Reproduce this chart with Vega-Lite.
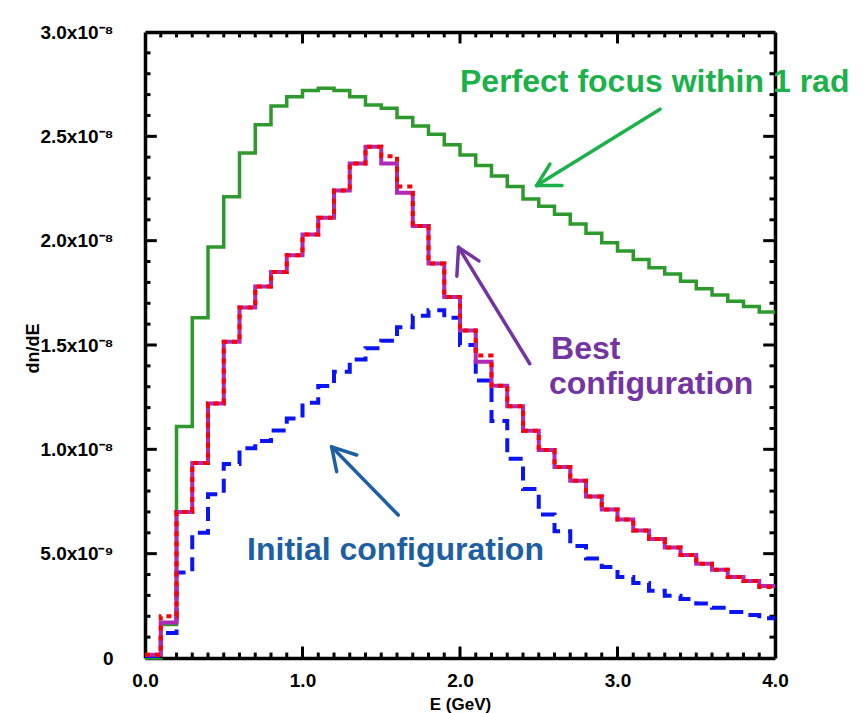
{
  "$schema": "https://vega.github.io/schema/vega-lite/v6.json",
  "width": 630,
  "height": 626,
  "autosize": "none",
  "padding": {"left": 145, "top": 32, "right": 88, "bottom": 55},
  "background": "white",
  "config": {
    "view": {"stroke": null},
    "font": "Liberation Sans",
    "axis": {"grid": false}
  },
  "datasets": {
    "spectra": [
      {"series": "Perfect focus", "E": 0.0, "dndE": 0},
      {"series": "Perfect focus", "E": 0.1, "dndE": 0.16e-8},
      {"series": "Perfect focus", "E": 0.2, "dndE": 1.11e-8},
      {"series": "Perfect focus", "E": 0.3, "dndE": 1.63e-8},
      {"series": "Perfect focus", "E": 0.4, "dndE": 1.97e-8},
      {"series": "Perfect focus", "E": 0.5, "dndE": 2.21e-8},
      {"series": "Perfect focus", "E": 0.6, "dndE": 2.42e-8},
      {"series": "Perfect focus", "E": 0.7, "dndE": 2.555e-8},
      {"series": "Perfect focus", "E": 0.8, "dndE": 2.645e-8},
      {"series": "Perfect focus", "E": 0.9, "dndE": 2.69e-8},
      {"series": "Perfect focus", "E": 1.0, "dndE": 2.72e-8},
      {"series": "Perfect focus", "E": 1.1, "dndE": 2.73e-8},
      {"series": "Perfect focus", "E": 1.2, "dndE": 2.72e-8},
      {"series": "Perfect focus", "E": 1.3, "dndE": 2.69e-8},
      {"series": "Perfect focus", "E": 1.4, "dndE": 2.65e-8},
      {"series": "Perfect focus", "E": 1.5, "dndE": 2.635e-8},
      {"series": "Perfect focus", "E": 1.6, "dndE": 2.59e-8},
      {"series": "Perfect focus", "E": 1.7, "dndE": 2.55e-8},
      {"series": "Perfect focus", "E": 1.8, "dndE": 2.51e-8},
      {"series": "Perfect focus", "E": 1.9, "dndE": 2.46e-8},
      {"series": "Perfect focus", "E": 2.0, "dndE": 2.41e-8},
      {"series": "Perfect focus", "E": 2.1, "dndE": 2.36e-8},
      {"series": "Perfect focus", "E": 2.2, "dndE": 2.31e-8},
      {"series": "Perfect focus", "E": 2.3, "dndE": 2.26e-8},
      {"series": "Perfect focus", "E": 2.4, "dndE": 2.2e-8},
      {"series": "Perfect focus", "E": 2.5, "dndE": 2.165e-8},
      {"series": "Perfect focus", "E": 2.6, "dndE": 2.127e-8},
      {"series": "Perfect focus", "E": 2.7, "dndE": 2.08e-8},
      {"series": "Perfect focus", "E": 2.8, "dndE": 2.036e-8},
      {"series": "Perfect focus", "E": 2.9, "dndE": 1.99e-8},
      {"series": "Perfect focus", "E": 3.0, "dndE": 1.95e-8},
      {"series": "Perfect focus", "E": 3.1, "dndE": 1.91e-8},
      {"series": "Perfect focus", "E": 3.2, "dndE": 1.87e-8},
      {"series": "Perfect focus", "E": 3.3, "dndE": 1.84e-8},
      {"series": "Perfect focus", "E": 3.4, "dndE": 1.806e-8},
      {"series": "Perfect focus", "E": 3.5, "dndE": 1.77e-8},
      {"series": "Perfect focus", "E": 3.6, "dndE": 1.74e-8},
      {"series": "Perfect focus", "E": 3.7, "dndE": 1.71e-8},
      {"series": "Perfect focus", "E": 3.8, "dndE": 1.684e-8},
      {"series": "Perfect focus", "E": 3.9, "dndE": 1.658e-8},
      {"series": "Perfect focus", "E": 4.0, "dndE": 1.658e-8},

      {"series": "Initial", "E": 0.0, "dndE": 0.01e-8},
      {"series": "Initial", "E": 0.1, "dndE": 0.12e-8},
      {"series": "Initial", "E": 0.2, "dndE": 0.41e-8},
      {"series": "Initial", "E": 0.3, "dndE": 0.6e-8},
      {"series": "Initial", "E": 0.4, "dndE": 0.785e-8},
      {"series": "Initial", "E": 0.5, "dndE": 0.93e-8},
      {"series": "Initial", "E": 0.6, "dndE": 1.005e-8},
      {"series": "Initial", "E": 0.7, "dndE": 1.04e-8},
      {"series": "Initial", "E": 0.8, "dndE": 1.09e-8},
      {"series": "Initial", "E": 0.9, "dndE": 1.148e-8},
      {"series": "Initial", "E": 1.0, "dndE": 1.223e-8},
      {"series": "Initial", "E": 1.1, "dndE": 1.303e-8},
      {"series": "Initial", "E": 1.2, "dndE": 1.372e-8},
      {"series": "Initial", "E": 1.3, "dndE": 1.43e-8},
      {"series": "Initial", "E": 1.4, "dndE": 1.484e-8},
      {"series": "Initial", "E": 1.5, "dndE": 1.52e-8},
      {"series": "Initial", "E": 1.6, "dndE": 1.585e-8},
      {"series": "Initial", "E": 1.7, "dndE": 1.64e-8},
      {"series": "Initial", "E": 1.8, "dndE": 1.667e-8},
      {"series": "Initial", "E": 1.9, "dndE": 1.63e-8},
      {"series": "Initial", "E": 2.0, "dndE": 1.5e-8},
      {"series": "Initial", "E": 2.1, "dndE": 1.33e-8},
      {"series": "Initial", "E": 2.2, "dndE": 1.136e-8},
      {"series": "Initial", "E": 2.3, "dndE": 0.955e-8},
      {"series": "Initial", "E": 2.4, "dndE": 0.81e-8},
      {"series": "Initial", "E": 2.5, "dndE": 0.688e-8},
      {"series": "Initial", "E": 2.6, "dndE": 0.607e-8},
      {"series": "Initial", "E": 2.7, "dndE": 0.537e-8},
      {"series": "Initial", "E": 2.8, "dndE": 0.477e-8},
      {"series": "Initial", "E": 2.9, "dndE": 0.436e-8},
      {"series": "Initial", "E": 3.0, "dndE": 0.388e-8},
      {"series": "Initial", "E": 3.1, "dndE": 0.36e-8},
      {"series": "Initial", "E": 3.2, "dndE": 0.322e-8},
      {"series": "Initial", "E": 3.3, "dndE": 0.298e-8},
      {"series": "Initial", "E": 3.4, "dndE": 0.283e-8},
      {"series": "Initial", "E": 3.5, "dndE": 0.261e-8},
      {"series": "Initial", "E": 3.6, "dndE": 0.241e-8},
      {"series": "Initial", "E": 3.7, "dndE": 0.22e-8},
      {"series": "Initial", "E": 3.8, "dndE": 0.206e-8},
      {"series": "Initial", "E": 3.9, "dndE": 0.19e-8},
      {"series": "Initial", "E": 4.0, "dndE": 0.19e-8},

      {"series": "Best B", "E": 0.0, "dndE": 0.015e-8},
      {"series": "Best B", "E": 0.1, "dndE": 0.17e-8},
      {"series": "Best B", "E": 0.2, "dndE": 0.7e-8},
      {"series": "Best B", "E": 0.3, "dndE": 0.935e-8},
      {"series": "Best B", "E": 0.4, "dndE": 1.22e-8},
      {"series": "Best B", "E": 0.5, "dndE": 1.515e-8},
      {"series": "Best B", "E": 0.6, "dndE": 1.68e-8},
      {"series": "Best B", "E": 0.7, "dndE": 1.78e-8},
      {"series": "Best B", "E": 0.8, "dndE": 1.85e-8},
      {"series": "Best B", "E": 0.9, "dndE": 1.93e-8},
      {"series": "Best B", "E": 1.0, "dndE": 2.03e-8},
      {"series": "Best B", "E": 1.1, "dndE": 2.11e-8},
      {"series": "Best B", "E": 1.2, "dndE": 2.24e-8},
      {"series": "Best B", "E": 1.3, "dndE": 2.37e-8},
      {"series": "Best B", "E": 1.4, "dndE": 2.45e-8},
      {"series": "Best B", "E": 1.5, "dndE": 2.37e-8},
      {"series": "Best B", "E": 1.6, "dndE": 2.23e-8},
      {"series": "Best B", "E": 1.7, "dndE": 2.07e-8},
      {"series": "Best B", "E": 1.8, "dndE": 1.89e-8},
      {"series": "Best B", "E": 1.9, "dndE": 1.73e-8},
      {"series": "Best B", "E": 2.0, "dndE": 1.57e-8},
      {"series": "Best B", "E": 2.1, "dndE": 1.42e-8},
      {"series": "Best B", "E": 2.2, "dndE": 1.305e-8},
      {"series": "Best B", "E": 2.3, "dndE": 1.207e-8},
      {"series": "Best B", "E": 2.4, "dndE": 1.089e-8},
      {"series": "Best B", "E": 2.5, "dndE": 0.997e-8},
      {"series": "Best B", "E": 2.6, "dndE": 0.915e-8},
      {"series": "Best B", "E": 2.7, "dndE": 0.85e-8},
      {"series": "Best B", "E": 2.8, "dndE": 0.774e-8},
      {"series": "Best B", "E": 2.9, "dndE": 0.712e-8},
      {"series": "Best B", "E": 3.0, "dndE": 0.664e-8},
      {"series": "Best B", "E": 3.1, "dndE": 0.611e-8},
      {"series": "Best B", "E": 3.2, "dndE": 0.57e-8},
      {"series": "Best B", "E": 3.3, "dndE": 0.53e-8},
      {"series": "Best B", "E": 3.4, "dndE": 0.494e-8},
      {"series": "Best B", "E": 3.5, "dndE": 0.452e-8},
      {"series": "Best B", "E": 3.6, "dndE": 0.423e-8},
      {"series": "Best B", "E": 3.7, "dndE": 0.388e-8},
      {"series": "Best B", "E": 3.8, "dndE": 0.369e-8},
      {"series": "Best B", "E": 3.9, "dndE": 0.345e-8},
      {"series": "Best B", "E": 4.0, "dndE": 0.345e-8},

      {"series": "Best A", "E": 0.0, "dndE": 0.015e-8},
      {"series": "Best A", "E": 0.1, "dndE": 0.2e-8},
      {"series": "Best A", "E": 0.2, "dndE": 0.7e-8},
      {"series": "Best A", "E": 0.3, "dndE": 0.935e-8},
      {"series": "Best A", "E": 0.4, "dndE": 1.22e-8},
      {"series": "Best A", "E": 0.5, "dndE": 1.515e-8},
      {"series": "Best A", "E": 0.6, "dndE": 1.68e-8},
      {"series": "Best A", "E": 0.7, "dndE": 1.78e-8},
      {"series": "Best A", "E": 0.8, "dndE": 1.85e-8},
      {"series": "Best A", "E": 0.9, "dndE": 1.93e-8},
      {"series": "Best A", "E": 1.0, "dndE": 2.03e-8},
      {"series": "Best A", "E": 1.1, "dndE": 2.11e-8},
      {"series": "Best A", "E": 1.2, "dndE": 2.24e-8},
      {"series": "Best A", "E": 1.3, "dndE": 2.37e-8},
      {"series": "Best A", "E": 1.4, "dndE": 2.45e-8},
      {"series": "Best A", "E": 1.5, "dndE": 2.405e-8},
      {"series": "Best A", "E": 1.6, "dndE": 2.26e-8},
      {"series": "Best A", "E": 1.7, "dndE": 2.07e-8},
      {"series": "Best A", "E": 1.8, "dndE": 1.89e-8},
      {"series": "Best A", "E": 1.9, "dndE": 1.73e-8},
      {"series": "Best A", "E": 2.0, "dndE": 1.57e-8},
      {"series": "Best A", "E": 2.1, "dndE": 1.45e-8},
      {"series": "Best A", "E": 2.2, "dndE": 1.305e-8},
      {"series": "Best A", "E": 2.3, "dndE": 1.207e-8},
      {"series": "Best A", "E": 2.4, "dndE": 1.089e-8},
      {"series": "Best A", "E": 2.5, "dndE": 0.997e-8},
      {"series": "Best A", "E": 2.6, "dndE": 0.915e-8},
      {"series": "Best A", "E": 2.7, "dndE": 0.85e-8},
      {"series": "Best A", "E": 2.8, "dndE": 0.774e-8},
      {"series": "Best A", "E": 2.9, "dndE": 0.712e-8},
      {"series": "Best A", "E": 3.0, "dndE": 0.664e-8},
      {"series": "Best A", "E": 3.1, "dndE": 0.611e-8},
      {"series": "Best A", "E": 3.2, "dndE": 0.57e-8},
      {"series": "Best A", "E": 3.3, "dndE": 0.53e-8},
      {"series": "Best A", "E": 3.4, "dndE": 0.494e-8},
      {"series": "Best A", "E": 3.5, "dndE": 0.452e-8},
      {"series": "Best A", "E": 3.6, "dndE": 0.423e-8},
      {"series": "Best A", "E": 3.7, "dndE": 0.388e-8},
      {"series": "Best A", "E": 3.8, "dndE": 0.369e-8},
      {"series": "Best A", "E": 3.9, "dndE": 0.34e-8},
      {"series": "Best A", "E": 4.0, "dndE": 0.34e-8}
    ],
    "ticks": [
      {"axis": "x", "at": 0.1, "kind": "minor"}, {"axis": "x", "at": 0.2, "kind": "minor"}, {"axis": "x", "at": 0.3, "kind": "minor"}, {"axis": "x", "at": 0.4, "kind": "minor"}, {"axis": "x", "at": 0.5, "kind": "minor"},
      {"axis": "x", "at": 0.6, "kind": "minor"}, {"axis": "x", "at": 0.7, "kind": "minor"}, {"axis": "x", "at": 0.8, "kind": "minor"}, {"axis": "x", "at": 0.9, "kind": "minor"}, {"axis": "x", "at": 1.0, "kind": "major"},
      {"axis": "x", "at": 1.1, "kind": "minor"}, {"axis": "x", "at": 1.2, "kind": "minor"}, {"axis": "x", "at": 1.3, "kind": "minor"}, {"axis": "x", "at": 1.4, "kind": "minor"}, {"axis": "x", "at": 1.5, "kind": "minor"},
      {"axis": "x", "at": 1.6, "kind": "minor"}, {"axis": "x", "at": 1.7, "kind": "minor"}, {"axis": "x", "at": 1.8, "kind": "minor"}, {"axis": "x", "at": 1.9, "kind": "minor"}, {"axis": "x", "at": 2.0, "kind": "major"},
      {"axis": "x", "at": 2.1, "kind": "minor"}, {"axis": "x", "at": 2.2, "kind": "minor"}, {"axis": "x", "at": 2.3, "kind": "minor"}, {"axis": "x", "at": 2.4, "kind": "minor"}, {"axis": "x", "at": 2.5, "kind": "minor"},
      {"axis": "x", "at": 2.6, "kind": "minor"}, {"axis": "x", "at": 2.7, "kind": "minor"}, {"axis": "x", "at": 2.8, "kind": "minor"}, {"axis": "x", "at": 2.9, "kind": "minor"}, {"axis": "x", "at": 3.0, "kind": "major"},
      {"axis": "x", "at": 3.1, "kind": "minor"}, {"axis": "x", "at": 3.2, "kind": "minor"}, {"axis": "x", "at": 3.3, "kind": "minor"}, {"axis": "x", "at": 3.4, "kind": "minor"}, {"axis": "x", "at": 3.5, "kind": "minor"},
      {"axis": "x", "at": 3.6, "kind": "minor"}, {"axis": "x", "at": 3.7, "kind": "minor"}, {"axis": "x", "at": 3.8, "kind": "minor"}, {"axis": "x", "at": 3.9, "kind": "minor"},
      {"axis": "y", "at": 1e-9, "kind": "minor"}, {"axis": "y", "at": 2e-9, "kind": "minor"}, {"axis": "y", "at": 3e-9, "kind": "minor"}, {"axis": "y", "at": 4e-9, "kind": "minor"}, {"axis": "y", "at": 5e-9, "kind": "major"},
      {"axis": "y", "at": 6e-9, "kind": "minor"}, {"axis": "y", "at": 7e-9, "kind": "minor"}, {"axis": "y", "at": 8e-9, "kind": "minor"}, {"axis": "y", "at": 9e-9, "kind": "minor"}, {"axis": "y", "at": 1e-8, "kind": "major"},
      {"axis": "y", "at": 1.1e-8, "kind": "minor"}, {"axis": "y", "at": 1.2e-8, "kind": "minor"}, {"axis": "y", "at": 1.3e-8, "kind": "minor"}, {"axis": "y", "at": 1.4e-8, "kind": "minor"}, {"axis": "y", "at": 1.5e-8, "kind": "major"},
      {"axis": "y", "at": 1.6e-8, "kind": "minor"}, {"axis": "y", "at": 1.7e-8, "kind": "minor"}, {"axis": "y", "at": 1.8e-8, "kind": "minor"}, {"axis": "y", "at": 1.9e-8, "kind": "minor"}, {"axis": "y", "at": 2e-8, "kind": "major"},
      {"axis": "y", "at": 2.1e-8, "kind": "minor"}, {"axis": "y", "at": 2.2e-8, "kind": "minor"}, {"axis": "y", "at": 2.3e-8, "kind": "minor"}, {"axis": "y", "at": 2.4e-8, "kind": "minor"}, {"axis": "y", "at": 2.5e-8, "kind": "major"},
      {"axis": "y", "at": 2.6e-8, "kind": "minor"}, {"axis": "y", "at": 2.7e-8, "kind": "minor"}, {"axis": "y", "at": 2.8e-8, "kind": "minor"}, {"axis": "y", "at": 2.9e-8, "kind": "minor"}
    ],
    "arrows": [
      {"group": "green", "E": 3.27, "v": 2.63e-8, "E2": 2.486, "v2": 2.264e-8},
      {"group": "green", "E": 2.486, "v": 2.264e-8, "E2": 2.648, "v2": 2.264e-8},
      {"group": "green", "E": 2.486, "v": 2.264e-8, "E2": 2.571, "v2": 2.367e-8},
      {"group": "purple", "E": 2.443, "v": 1.41e-8, "E2": 1.991, "v2": 1.968e-8},
      {"group": "purple", "E": 1.991, "v": 1.968e-8, "E2": 2.12, "v2": 1.903e-8},
      {"group": "purple", "E": 1.991, "v": 1.968e-8, "E2": 1.98, "v2": 1.83e-8},
      {"group": "blue", "E": 1.608, "v": 0.685e-8, "E2": 1.185, "v2": 1.012e-8},
      {"group": "blue", "E": 1.185, "v": 1.012e-8, "E2": 1.344, "v2": 0.973e-8},
      {"group": "blue", "E": 1.185, "v": 1.012e-8, "E2": 1.217, "v2": 0.893e-8}
    ],
    "labels": [
      {"group": "green", "text": "Perfect focus within 1 rad", "E": 2.0, "v": 2.714e-8},
      {"group": "purple", "text": "Best", "E": 2.578, "v": 1.433e-8},
      {"group": "purple", "text": "configuration", "E": 2.565, "v": 1.265e-8},
      {"group": "blue", "text": "Initial configuration", "E": 0.648, "v": 0.47e-8}
    ]
  },
  "layer": [
    {
      "data": {"name": "spectra"},
      "transform": [{"filter": "datum.series === 'Perfect focus'"}],
      "mark": {"type": "line", "interpolate": "step-after", "color": "#2e9a2e", "strokeWidth": 3.5},
      "encoding": {
        "x": {"field": "E", "type": "quantitative",
          "scale": {"domain": [0, 4], "nice": false, "zero": false},
          "axis": {
            "orient": "bottom",
            "title": "E  (GeV)",
            "titleFont": "Liberation Sans", "titleFontSize": 17, "titleFontWeight": "bold", "titleColor": "black",
            "titleBaseline": "middle", "titleY": 46,
            "values": [0, 1, 2, 3, 4],
            "format": ".1f",
            "labelFont": "Liberation Sans", "labelFontSize": 19, "labelFontWeight": "bold", "labelColor": "black",
            "labelPadding": 22, "labelFlush": false, "labelOverlap": false, "labelBaseline": "middle",
            "domainColor": "black", "domainWidth": 3.5, "ticks": false
          }
        },
        "y": {"field": "dndE", "type": "quantitative",
          "scale": {"domain": [0, 3e-8], "nice": false},
          "axis": {
            "orient": "left",
            "title": "dn/dE",
            "titleFont": "Liberation Sans", "titleFontSize": 18, "titleFontWeight": "bold", "titleColor": "black",
            "titleX": -112, "titleY": 316, "titleAngle": 270, "titleBaseline": "middle", "titleAlign": "center",
            "values": [0, 5e-9, 1e-8, 1.5e-8, 2e-8, 2.5e-8, 3e-8],
            "labelExpr": "datum.value < 1e-12 ? '0' : (datum.value < 9e-9 ? format(datum.value*1e9, '.1f') + 'x10⁻⁹' : format(datum.value*1e8, '.1f') + 'x10⁻⁸')",
            "labelFont": "Liberation Sans", "labelFontSize": 19, "labelFontWeight": "bold", "labelColor": "black",
            "labelPadding": 32, "labelFlush": false, "labelOverlap": false,
            "domainColor": "black", "domainWidth": 3.5, "ticks": false
          }
        }
      }
    },
    {
      "data": {"name": "spectra"},
      "transform": [{"filter": "datum.series === 'Perfect focus'"}],
      "mark": {"type": "line", "interpolate": "step-after", "opacity": 0},
      "encoding": {
        "x": {"field": "E", "type": "quantitative",
          "axis": {"orient": "top", "title": null, "labels": false, "ticks": false, "values": [0, 4],
            "domainColor": "black", "domainWidth": 3.5}
        },
        "y": {"field": "dndE", "type": "quantitative",
          "axis": {"orient": "right", "title": null, "labels": false, "ticks": false, "values": [0, 3e-8],
            "domainColor": "black", "domainWidth": 3.5}
        }
      }
    },
    {
      "data": {"name": "ticks"},
      "transform": [{"filter": "datum.axis === 'x' && datum.kind === 'major'"}],
      "mark": {"type": "rule", "color": "#000000", "strokeWidth": 3},
      "encoding": {
        "x": {"field": "at", "type": "quantitative", "axis": null},
        "y": {"datum": 0, "type": "quantitative", "axis": null},
        "y2": {"datum": 5.5e-10}
      }
    },
    {
      "data": {"name": "ticks"},
      "transform": [{"filter": "datum.axis === 'x' && datum.kind === 'minor'"}],
      "mark": {"type": "rule", "color": "#000000", "strokeWidth": 3},
      "encoding": {
        "x": {"field": "at", "type": "quantitative", "axis": null},
        "y": {"datum": 0, "type": "quantitative", "axis": null},
        "y2": {"datum": 2.6e-10}
      }
    },
    {
      "data": {"name": "ticks"},
      "transform": [{"filter": "datum.axis === 'x' && datum.kind === 'major'"}],
      "mark": {"type": "rule", "color": "#000000", "strokeWidth": 3},
      "encoding": {
        "x": {"field": "at", "type": "quantitative", "axis": null},
        "y": {"datum": 3e-8, "type": "quantitative", "axis": null},
        "y2": {"datum": 2.945e-8}
      }
    },
    {
      "data": {"name": "ticks"},
      "transform": [{"filter": "datum.axis === 'x' && datum.kind === 'minor'"}],
      "mark": {"type": "rule", "color": "#000000", "strokeWidth": 3},
      "encoding": {
        "x": {"field": "at", "type": "quantitative", "axis": null},
        "y": {"datum": 3e-8, "type": "quantitative", "axis": null},
        "y2": {"datum": 2.974e-8}
      }
    },
    {
      "data": {"name": "ticks"},
      "transform": [{"filter": "datum.axis === 'y' && datum.kind === 'major'"}],
      "mark": {"type": "rule", "color": "#000000", "strokeWidth": 3},
      "encoding": {
        "y": {"field": "at", "type": "quantitative", "axis": null},
        "x": {"datum": 0, "type": "quantitative", "axis": null},
        "x2": {"datum": 0.075}
      }
    },
    {
      "data": {"name": "ticks"},
      "transform": [{"filter": "datum.axis === 'y' && datum.kind === 'minor'"}],
      "mark": {"type": "rule", "color": "#000000", "strokeWidth": 3},
      "encoding": {
        "y": {"field": "at", "type": "quantitative", "axis": null},
        "x": {"datum": 0, "type": "quantitative", "axis": null},
        "x2": {"datum": 0.035}
      }
    },
    {
      "data": {"name": "ticks"},
      "transform": [{"filter": "datum.axis === 'y' && datum.kind === 'major'"}],
      "mark": {"type": "rule", "color": "#000000", "strokeWidth": 3},
      "encoding": {
        "y": {"field": "at", "type": "quantitative", "axis": null},
        "x": {"datum": 4, "type": "quantitative", "axis": null},
        "x2": {"datum": 3.925}
      }
    },
    {
      "data": {"name": "ticks"},
      "transform": [{"filter": "datum.axis === 'y' && datum.kind === 'minor'"}],
      "mark": {"type": "rule", "color": "#000000", "strokeWidth": 3},
      "encoding": {
        "y": {"field": "at", "type": "quantitative", "axis": null},
        "x": {"datum": 4, "type": "quantitative", "axis": null},
        "x2": {"datum": 3.965}
      }
    },
    {
      "data": {"name": "spectra"},
      "transform": [{"filter": "datum.series === 'Initial'"}],
      "mark": {"type": "line", "interpolate": "step-after", "color": "#0a14f5", "strokeWidth": 4, "strokeDash": [14, 8]},
      "encoding": {
        "x": {"field": "E", "type": "quantitative", "axis": null},
        "y": {"field": "dndE", "type": "quantitative", "axis": null}
      }
    },
    {
      "data": {"name": "spectra"},
      "transform": [{"filter": "datum.series === 'Best B'"}],
      "mark": {"type": "line", "interpolate": "step-after", "color": "#b02ab8", "strokeWidth": 4},
      "encoding": {
        "x": {"field": "E", "type": "quantitative", "axis": null},
        "y": {"field": "dndE", "type": "quantitative", "axis": null}
      }
    },
    {
      "data": {"name": "spectra"},
      "transform": [{"filter": "datum.series === 'Best A'"}],
      "mark": {"type": "line", "interpolate": "step-after", "color": "#ff0000", "strokeWidth": 4, "strokeDash": [5, 5]},
      "encoding": {
        "x": {"field": "E", "type": "quantitative", "axis": null},
        "y": {"field": "dndE", "type": "quantitative", "axis": null}
      }
    },
    {
      "data": {"name": "arrows"},
      "mark": {"type": "rule", "strokeWidth": 3.5, "strokeCap": "round"},
      "encoding": {
        "x": {"field": "E", "type": "quantitative", "axis": null},
        "y": {"field": "v", "type": "quantitative", "axis": null},
        "x2": {"field": "E2"},
        "y2": {"field": "v2"},
        "color": {"field": "group", "type": "nominal", "legend": null,
          "scale": {"domain": ["green", "purple", "blue"], "range": ["#1db14b", "#7434a4", "#1d5fa3"]}}
      }
    },
    {
      "data": {"name": "labels"},
      "mark": {"type": "text", "align": "left", "baseline": "alphabetic", "font": "Liberation Sans", "fontSize": 32, "fontWeight": "bold"},
      "encoding": {
        "x": {"field": "E", "type": "quantitative", "axis": null},
        "y": {"field": "v", "type": "quantitative", "axis": null},
        "text": {"field": "text"},
        "color": {"field": "group", "type": "nominal", "legend": null,
          "scale": {"domain": ["green", "purple", "blue"], "range": ["#1db14b", "#7434a4", "#1d5fa3"]}}
      }
    }
  ],
  "resolve": {"axis": {"x": "independent", "y": "independent"}}
}
